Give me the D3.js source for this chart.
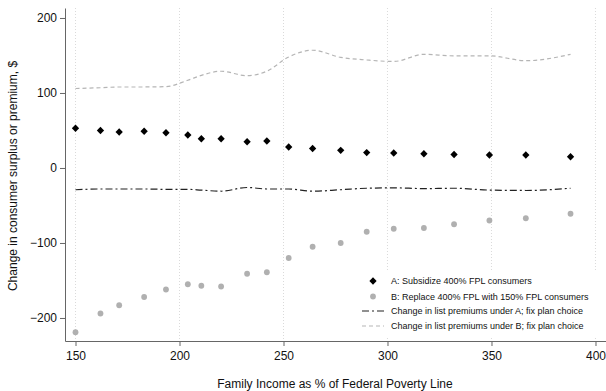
<!DOCTYPE html>
<html><head><meta charset="utf-8">
<script src="https://cdn.jsdelivr.net/npm/d3@7"></script>
<style>body{margin:0;background:#fff}svg{display:block;font-family:"Liberation Sans",Arial,Helvetica,sans-serif}</style>
</head><body>
<svg id="c" width="606" height="391"></svg>
<script>
const fpl = [150,162,171,183,193.5,204,210.5,220,232.5,242,252.5,264,277.5,290,303,317.5,332,349,366.5,388];
const subsidizeA = [53,50,48,49,47,44,39,39,35,36,28,26,23.5,20.5,20,19,18,17.3,17.3,15];
const replaceB = [-219,-194,-183,-172,-162,-155,-157,-158,-141,-139,-120,-105,-100,-85,-81,-80,-75,-70,-67,-61];
const premA = [-29,-28,-28,-28,-28.5,-28.5,-29.5,-31,-26,-28,-28,-31,-29,-27,-26.5,-27.5,-27,-29.5,-30,-27];
const premB = [106,107,108,108,108.5,117,123.5,129,123,129,148,157,147.5,144,142,151.5,149.5,149.5,143,151.5];
const xTicks = [150,200,250,300,350,400];
const yTicks = [-200,-100,0,100,200];
const legendLabels = ["A: Subsidize 400% FPL consumers","B: Replace 400% FPL with 150% FPL consumers","Change in list premiums under A; fix plan choice","Change in list premiums under B; fix plan choice"];
const xTitle = "Family Income as % of Federal Poverty Line";
const yTitle = "Change in consumer surplus or premium, $";

const svg = d3.select("#c");
const x = d3.scaleLinear().domain([144.95,405.05]).range([65,606]);
const y = d3.scaleLinear().domain([-230.7,213.3]).range([341,8]);
const axisCol = "#666";

// gridlines
svg.append("g").selectAll("line").data(xTicks).join("line")
  .attr("x1",d=>x(d)).attr("x2",d=>x(d)).attr("y1",8).attr("y2",341)
  .attr("stroke","#d0d0d0").attr("stroke-width",0.8).attr("stroke-dasharray","1,2");

// axes
const gx = svg.append("g").attr("transform","translate(0,341)")
  .call(d3.axisBottom(x).tickValues(xTicks).tickSize(5).tickSizeOuter(0).tickFormat(d3.format("d")));
const gy = svg.append("g").attr("transform","translate(65,0)")
  .call(d3.axisLeft(y).tickValues(yTicks).tickSize(5).tickSizeOuter(0).tickFormat(d3.format("d")));
[gx,gy].forEach(g=>{
  g.selectAll("path,line").attr("stroke",axisCol).attr("stroke-width",1);
  g.selectAll("text").attr("fill","#111").style("font-size","12px");
});
gx.selectAll("text").attr("dy","0.9em");
gy.selectAll("text").attr("x",-8);

// lines
const line = d3.line().x(d=>x(d[0])).y(d=>y(d[1])).curve(d3.curveMonotoneX);
svg.append("path").datum(fpl.map((f,i)=>[f,premB[i]])).attr("d",line)
  .attr("fill","none").attr("stroke","#b5b5b5").attr("stroke-width",1.2).attr("stroke-dasharray","4,3");
svg.append("path").datum(fpl.map((f,i)=>[f,premA[i]])).attr("d",line)
  .attr("fill","none").attr("stroke","#222").attr("stroke-width",1.2).attr("stroke-dasharray","7,3,2,3");

// markers
const diamond = d3.symbol().type(d3.symbolDiamond2).size(34);
svg.append("g").selectAll("path").data(fpl.map((f,i)=>[f,subsidizeA[i]])).join("path")
  .attr("d",diamond).attr("transform",d=>`translate(${x(d[0])},${y(d[1])})`).attr("fill","#000");
svg.append("g").selectAll("circle").data(fpl.map((f,i)=>[f,replaceB[i]])).join("circle")
  .attr("cx",d=>x(d[0])).attr("cy",d=>y(d[1])).attr("r",2.9).attr("fill","#b0b0b0");

// legend
const lg = svg.append("g");
lg.append("rect").attr("x",355).attr("y",270).attr("width",245).attr("height",66).attr("fill","#fff");
const rows = [281,296.5,311,326];
lg.append("path").attr("d",diamond).attr("transform",`translate(373,${rows[0]})`).attr("fill","#000");
lg.append("circle").attr("cx",373).attr("cy",rows[1]).attr("r",2.9).attr("fill","#b0b0b0");
lg.append("line").attr("x1",362).attr("x2",384).attr("y1",rows[2]).attr("y2",rows[2])
  .attr("stroke","#222").attr("stroke-width",1.2).attr("stroke-dasharray","7,3,2,3");
lg.append("line").attr("x1",362).attr("x2",384).attr("y1",rows[3]).attr("y2",rows[3])
  .attr("stroke","#b5b5b5").attr("stroke-width",1.2).attr("stroke-dasharray","4,3");
lg.selectAll("text").data(legendLabels).join("text")
  .attr("x",391).attr("y",(d,i)=>rows[i]).attr("dy","0.35em")
  .style("font-size","9px").attr("fill","#111").text(d=>d);

// titles
svg.append("text").attr("x",335).attr("y",388).attr("text-anchor","middle")
  .style("font-size","12px").attr("fill","#111").text(xTitle);
svg.append("text").attr("transform","translate(17,176) rotate(-90)").attr("text-anchor","middle")
  .style("font-size","12px").attr("fill","#111").text(yTitle);
</script>
</body></html>
